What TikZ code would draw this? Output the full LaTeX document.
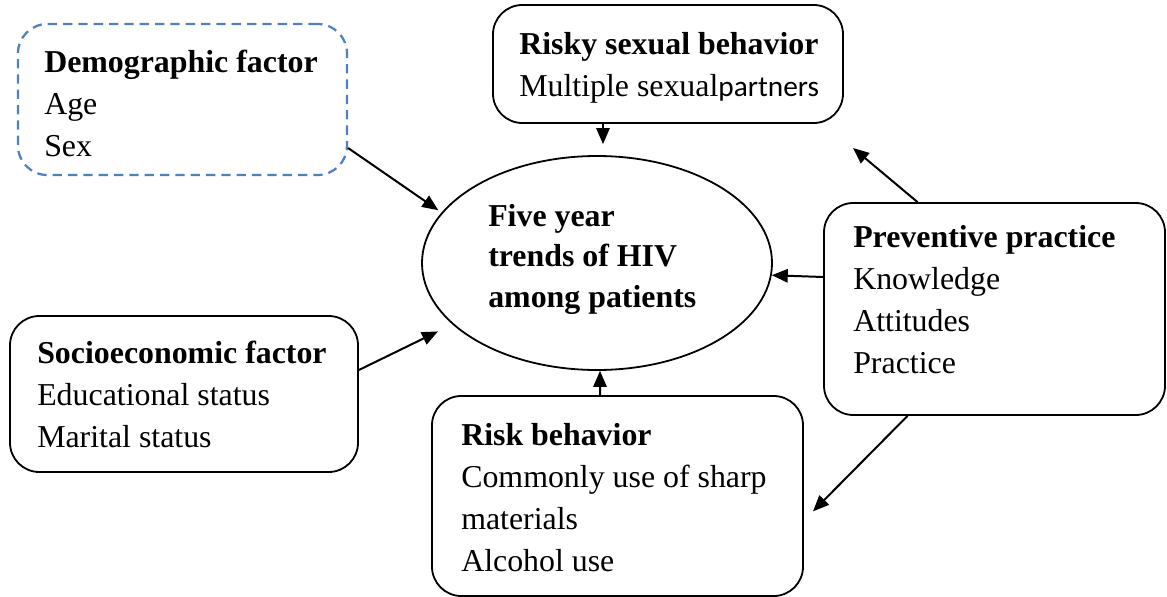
\documentclass[tikz,border=0pt]{standalone}
\usepackage{fontspec}
\setmainfont{Liberation Serif}
\newfontfamily\calibri{Carlito}
\usetikzlibrary{shapes.geometric,arrows.meta}
\definecolor{dashblue}{RGB}{79,129,189}
\begin{document}
\begin{tikzpicture}[x=0.75pt,y=-0.75pt,
  box/.style={draw, line width=1.35pt, rounded corners=22pt, inner sep=0pt},
  dbox/.style={draw=dashblue, line width=1.7pt, dash pattern=on 7pt off 4.5pt, rounded corners=22pt, inner sep=0pt},
  txt/.style={anchor=north west, align=left, inner sep=0pt, font=\fontsize{23.9pt}{31.5pt}\selectfont},
  htxt/.style={anchor=north west, align=left, inner sep=0pt, font=\fontsize{23.9pt}{30.5pt}\selectfont\bfseries},
  arr/.style={line width=1.5pt, -{Triangle[length=12pt,width=10pt]}},
]
\useasboundingbox (0,0) rectangle (1167,596);

% boxes
\node[dbox, minimum width=246.75pt, minimum height=113.25pt] (demo) at (182.5,99.5) {};
\node[box, minimum width=262.5pt, minimum height=88.5pt] (risky) at (668,64) {};
\node[box, minimum width=255.75pt, minimum height=159pt] (prev) at (994.5,309) {};
\node[box, minimum width=278.25pt, minimum height=150pt] (risk) at (617.5,496) {};
\node[box, minimum width=261pt, minimum height=117pt] (socio) at (184,394) {};
\node[ellipse, draw, line width=1.35pt, inner sep=0pt, minimum width=262.5pt, minimum height=160.5pt] (hiv) at (597,263) {};

% texts
\node[txt] (demoT) at (44,42.6) {\textbf{Demographic factor}\strut\\Age\\Sex};
\node[txt] (riskyT) at (519,24.6) {\textbf{Risky sexual behavior}\strut\\Multiple sexual{\calibri\fontsize{22pt}{31.5pt}\selectfont partners}};
\node[txt] (prevT) at (853,217.6) {\textbf{Preventive practice}\strut\\Knowledge\\Attitudes\\Practice};
\node[txt] (riskT) at (461,415.6) {\textbf{Risk behavior}\strut\\Commonly use of sharp\\materials\\Alcohol use};
\node[txt] (socioT) at (37,333.6) {\textbf{Socioeconomic factor}\strut\\Educational status\\Marital status};
\node[htxt] (hivT) at (488,197.5) {Five year\strut\\trends of HIV\\among patients};

% free end
\coordinate (up) at (853,148);

% connectors
\draw[arr, shorten >=3pt] ([yshift=-36.4pt]demo.east) -- (hiv.162);
\draw[arr, shorten >=12pt] ([yshift=18pt]socio.east) -- (hiv.203);
\draw[arr, shorten >=8.25pt] ([xshift=-48.75pt]risky.south) -- ([xshift=4.5pt]hiv.north);
\draw[arr] ([yshift=24pt]prev.west) -- (hiv.-4.6);
\draw[arr] ([xshift=-57.75pt]prev.north) -- (up);
\draw[arr, shorten >=9.7pt] ([xshift=-65.25pt]prev.south) -- ([yshift=-18.4pt]risk.east);
\draw[arr] ([xshift=-13.1pt]risk.north) -- ([xshift=2.25pt]hiv.south);
\end{tikzpicture}
\end{document}
